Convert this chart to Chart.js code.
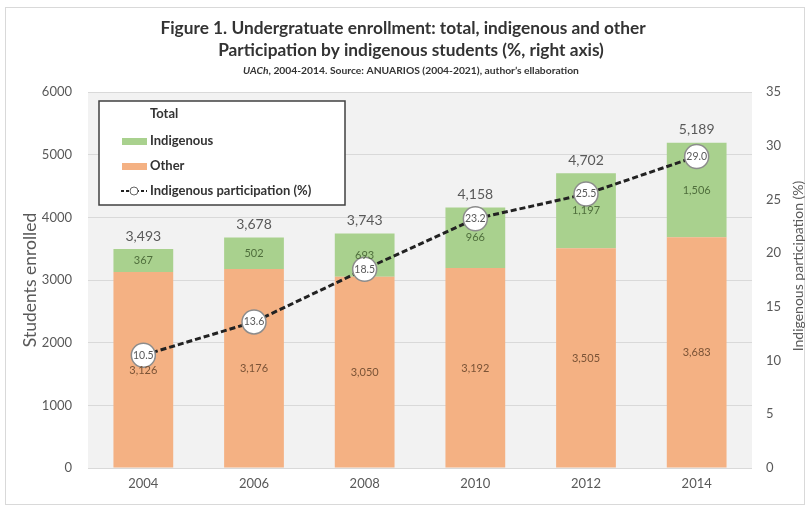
<!DOCTYPE html>
<html><head><meta charset="utf-8">
<script src="https://cdn.jsdelivr.net/npm/chart.js@4.4.0/dist/chart.umd.min.js"></script>
<style>html,body{margin:0;padding:0;background:#fff}</style>
</head><body>
<canvas id="c" width="810" height="512"></canvas>
<script>
const years = ['2004','2006','2008','2010','2012','2014'];
const other = [3126,3176,3050,3192,3505,3683];
const indigenous = [367,502,693,966,1197,1506];
const total = [3493,3678,3743,4158,4702,5189];
const participation = [10.5,13.6,18.5,23.2,25.5,29.0];
const leftTicks = [0,1000,2000,3000,4000,5000,6000];
const rightTicks = [0,5,10,15,20,25,30,35];
const titleLines = ['Figure 1. Undergratuate enrollment: total, indigenous and other','Participation by indigenous students (%, right axis)'];
const subtitleItalic = 'UACh';
const subtitleRest = ', 2004-2014. Source: ANUARIOS (2004-2021), author\u2019s ellaboration';
const rightTitle = 'Indigenous participation (%)';

const FONT = 'Lato, "Open Sans", sans-serif';
const ORANGE = '#F4B183';
const GREEN = '#A9D18E';
const GREY = '#595959';
const fmt = v => v.toLocaleString('en-US');

const framePlugin = {
  id: 'frame',
  beforeDraw(chart) {
    const {ctx, chartArea: a} = chart;
    ctx.save();
    ctx.fillStyle = '#fff';
    ctx.fillRect(0, 0, chart.width, chart.height);
    ctx.strokeStyle = '#d9d9d9';
    ctx.lineWidth = 1;
    ctx.strokeRect(5.5, 7.5, 799, 497);
    ctx.fillStyle = '#f2f2f2';
    ctx.fillRect(a.left, a.top, a.right - a.left, a.bottom - a.top);
    // titles
    ctx.fillStyle = '#333';
    ctx.textAlign = 'center';
    ctx.textBaseline = 'middle';
    ctx.font = 'bold 17.3px ' + FONT;
    ctx.fillText(titleLines[0], 403, 28);
    ctx.fillText(titleLines[1], 411, 50);
    ctx.font = 'italic bold 10.3px ' + FONT;
    const wi = ctx.measureText(subtitleItalic).width;
    ctx.font = 'bold 10.3px ' + FONT;
    const wr = ctx.measureText(subtitleRest).width;
    const x0 = 411 - (wi + wr) / 2;
    ctx.textAlign = 'left';
    ctx.font = 'italic bold 10.3px ' + FONT;
    ctx.fillText(subtitleItalic, x0, 71);
    ctx.font = 'bold 10.3px ' + FONT;
    ctx.fillText(subtitleRest, x0 + wi, 71);
    // right axis title (reads bottom to top)
    ctx.save();
    ctx.translate(798, 266);
    ctx.rotate(-Math.PI / 2);
    ctx.textAlign = 'center';
    ctx.fillStyle = GREY;
    ctx.font = '14px ' + FONT;
    ctx.fillText(rightTitle, 0, 0);
    ctx.restore();
    ctx.restore();
  }
};

const labelPlugin = {
  id: 'labels',
  afterDatasetsDraw(chart) {
    const {ctx} = chart;
    const yS = chart.scales.y;
    const mOther = chart.getDatasetMeta(0), mLine = chart.getDatasetMeta(2);
    ctx.save();
    ctx.textAlign = 'center';
    ctx.textBaseline = 'middle';
    years.forEach((yr, i) => {
      const x = mOther.data[i].x;
      ctx.font = '11px ' + FONT;
      ctx.fillStyle = '#7a5336';
      ctx.fillText(fmt(other[i]), x, yS.getPixelForValue(other[i] / 2));
      ctx.fillStyle = '#4f6e3c';
      ctx.fillText(fmt(indigenous[i]), x, yS.getPixelForValue(other[i] + indigenous[i] / 2));
      ctx.font = '14px ' + FONT;
      ctx.fillStyle = GREY;
      ctx.fillText(fmt(total[i]), x, yS.getPixelForValue(total[i]) - 13);
    });
    mLine.data.forEach((p, i) => {
      ctx.font = '10.5px ' + FONT;
      ctx.fillStyle = GREY;
      ctx.fillText(participation[i].toFixed(1), p.x, p.y);
    });
    ctx.restore();
  }
};

const legendPlugin = {
  id: 'legendBox',
  afterDraw(chart) {
    const {ctx} = chart;
    ctx.save();
    ctx.fillStyle = '#fff';
    ctx.fillRect(99, 101, 246, 104);
    ctx.strokeStyle = '#404040';
    ctx.lineWidth = 1.5;
    ctx.strokeRect(99, 101, 246, 104);
    ctx.font = 'bold 13px ' + FONT;
    ctx.fillStyle = '#333';
    ctx.textBaseline = 'middle';
    ctx.textAlign = 'left';
    const tx = 150;
    ctx.fillText('Total', tx, 114);
    ctx.fillStyle = GREEN; ctx.fillRect(122, 138, 25, 7);
    ctx.fillStyle = '#333'; ctx.fillText(chart.data.datasets[1].label, tx, 141);
    ctx.fillStyle = ORANGE; ctx.fillRect(122, 163, 25, 7);
    ctx.fillStyle = '#333'; ctx.fillText(chart.data.datasets[0].label, tx, 166);
    ctx.strokeStyle = '#222'; ctx.lineWidth = 2; ctx.setLineDash([3, 2]);
    ctx.beginPath(); ctx.moveTo(121, 191); ctx.lineTo(147, 191); ctx.stroke();
    ctx.setLineDash([]);
    ctx.fillStyle = '#fff'; ctx.strokeStyle = '#666'; ctx.lineWidth = 1;
    ctx.beginPath(); ctx.arc(134, 191, 4, 0, Math.PI * 2); ctx.fill(); ctx.stroke();
    ctx.fillStyle = '#333'; ctx.fillText(chart.data.datasets[2].label, tx, 191);
    ctx.restore();
  }
};

new Chart(document.getElementById('c'), {
  data: {
    labels: years,
    datasets: [
      { type: 'bar', label: 'Other', data: other, backgroundColor: ORANGE, stack: 's', yAxisID: 'y', order: 2, barPercentage: 0.54, categoryPercentage: 1 },
      { type: 'bar', label: 'Indigenous', data: indigenous, backgroundColor: GREEN, stack: 's', yAxisID: 'y', order: 2, barPercentage: 0.54, categoryPercentage: 1 },
      { type: 'line', label: 'Indigenous participation (%)', data: participation, yAxisID: 'y1', order: 0,
        borderColor: '#222', borderWidth: 3, borderDash: [6, 3], fill: false, tension: 0,
        pointRadius: 12, pointBackgroundColor: '#fff', pointBorderColor: '#8c8c8c', pointBorderWidth: 1.5 }
    ]
  },
  options: {
    responsive: false,
    animation: false,
    events: [],
    layout: { padding: { left: 20, right: 4, top: 92, bottom: 10 } },
    plugins: { legend: { display: false }, tooltip: { enabled: false }, title: { display: false } },
    scales: {
      x: {
        stacked: true,
        grid: { display: false, drawTicks: false },
        border: { display: false },
        ticks: { color: GREY, font: { family: FONT, size: 13 }, padding: 8 },
        afterFit(s) { s.height = 34; }
      },
      y: {
        stacked: true, position: 'left',
        min: leftTicks[0], max: leftTicks[leftTicks.length - 1],
        afterBuildTicks(s) { s.ticks = leftTicks.map(v => ({ value: v })); },
        grid: { color: '#d9d9d9', drawTicks: false },
        border: { display: false },
        ticks: { color: GREY, font: { family: FONT, size: 13 }, padding: 16, callback: v => String(v) },
        title: { display: true, text: 'Students enrolled', color: GREY, font: { family: FONT, size: 17.5 }, padding: 0 },
        afterFit(s) { s.width = 68; }
      },
      y1: {
        position: 'right',
        min: rightTicks[0], max: rightTicks[rightTicks.length - 1],
        afterBuildTicks(s) { s.ticks = rightTicks.map(v => ({ value: v })); },
        grid: { display: false, drawTicks: false },
        border: { display: false },
        ticks: { color: GREY, font: { family: FONT, size: 13 }, padding: 14, callback: v => String(v) },
        afterFit(s) { s.width = 54; }
      }
    }
  },
  plugins: [framePlugin, labelPlugin, legendPlugin]
});
</script>
</body></html>
